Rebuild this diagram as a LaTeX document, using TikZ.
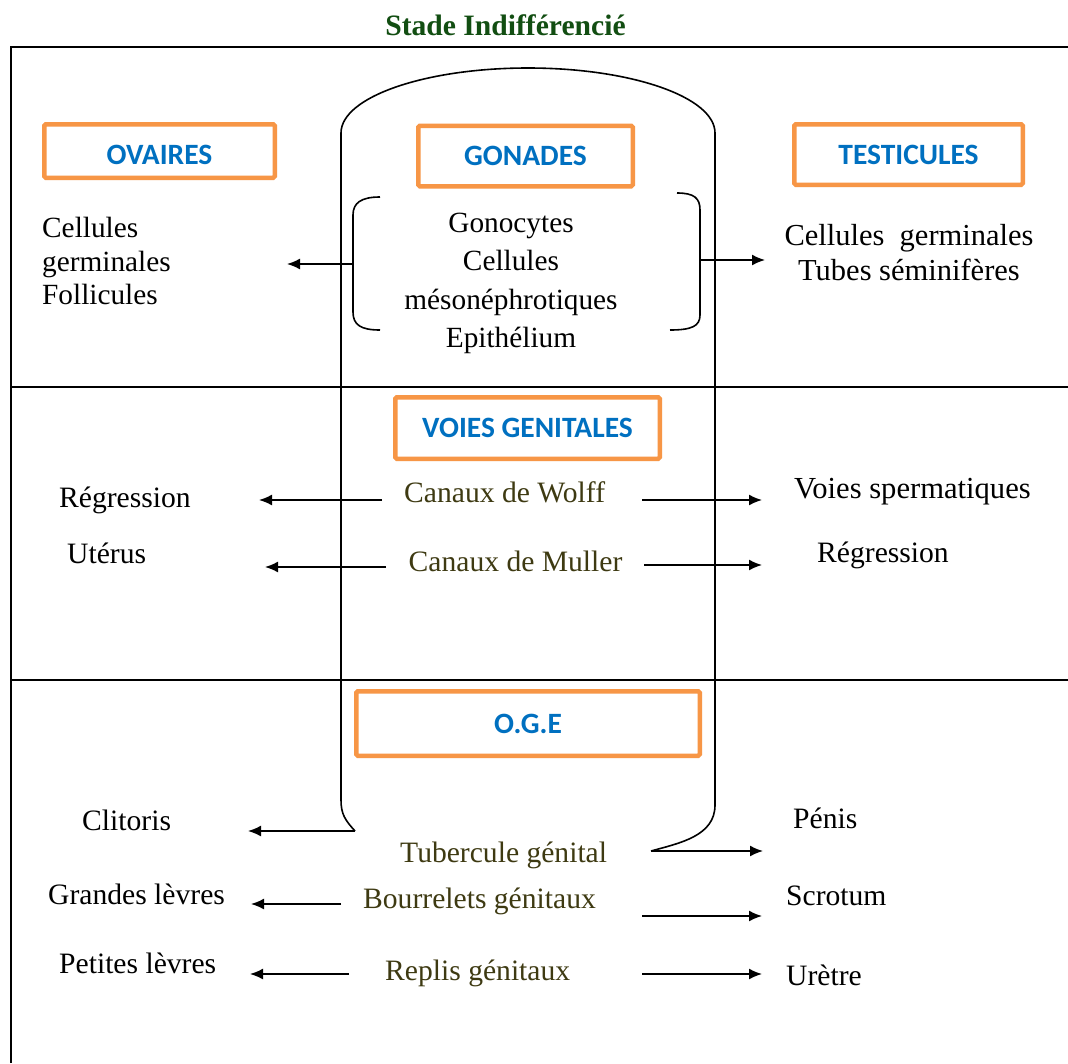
\documentclass[tikz,border=0pt]{standalone}
\usepackage{fontspec}
\setmainfont{Liberation Serif}
\newfontfamily\calibrifont{Carlito}
\usetikzlibrary{arrows.meta}
\definecolor{oboxc}{RGB}{247,150,70}
\definecolor{hblue}{RGB}{0,112,192}
\definecolor{olivetxt}{RGB}{62,58,18}
\definecolor{titlegreen}{RGB}{18,78,18}
\begin{document}
\begin{tikzpicture}[x=1pt,y=-1pt,
  frameline/.style={line width=1.8pt},
  pill/.style={line width=1.6pt},
  arr/.style={line width=1.6pt,-{Latex[length=13pt,width=11pt]}},
  hbox/.style={draw=oboxc,line width=4.5pt,rounded corners=1.5pt,
    font=\calibrifont\bfseries\fontsize{29.5}{34}\selectfont,text=hblue,inner sep=0pt},
  txt/.style={font=\fontsize{29.6}{34}\selectfont,inner sep=0pt},
  otxt/.style={txt,text=olivetxt},
]
\useasboundingbox (0,0) rectangle (1068,1063);
\fill[white] (0,0) rectangle (1068,1063);

% frame
\draw[frameline] (11,1063) -- (11,47) -- (1068,47);
\draw[frameline] (11,387) -- (1068,387);
\draw[frameline] (11,680) -- (1068,680);

% title
\node[inner sep=0pt,anchor=base,text=titlegreen,font=\bfseries\fontsize{29.6}{34}\selectfont] (title) at (505.5,35) {Stade Indifférencié};

% pill shape
\coordinate (pillL) at (355,831);
\coordinate (pillR) at (651,851);
\draw[pill] (pillL) .. controls (345,820) and (341,814) .. (341,800) -- (341,133)
  .. controls (341,97.1) and (424.8,68) .. (528,68)
  .. controls (631.2,68) and (715,97.1) .. (715,133) -- (715,805)
  .. controls (715,836) and (680,843) .. (pillR);

% header boxes
\node[hbox,minimum width=230.5pt,minimum height=53.5pt,text height=27pt,text depth=0pt] (ovaires) at (159.5,151) {OVAIRES};
\node[hbox,minimum width=214.5pt,minimum height=60.5pt] (gonades) at (525.5,156) {GONADES};
\node[hbox,minimum width=228.5pt,minimum height=60.5pt] (testicules) at (908.5,154.5) {TESTICULES};
\node[hbox,minimum width=264.5pt,minimum height=61.5pt] (voies) at (527.5,428) {VOIES GENITALES};
\node[hbox,minimum width=343.5pt,minimum height=64.5pt] (oge) at (528,723.5) {O.G.E};

% gonades section
\node[txt,align=left,anchor=north west,font=\fontsize{29.3}{33.5}\selectfont] (ovtxt) at (42,217) {Cellules\\germinales\\Follicules};
\node[txt,align=center,anchor=north,font=\fontsize{29.3}{38.3}\selectfont] (gontxt) at (511,213) {Gonocytes\\Cellules\\mésonéphrotiques\\Epithélium};
\node[txt,align=center,anchor=north,font=\fontsize{30.5}{35}\selectfont] (testxt) at (909,224) {Cellules\ \ germinales\\Tubes séminifères};

% brackets
\draw[pill] (380,197) .. controls (361,197) and (353,203) .. (353,215) -- (353,312)
  .. controls (353,325) and (361,330) .. (380,330);
\draw[pill] (677,193) .. controls (694,193) and (700,198) .. (700,210) -- (700,315)
  .. controls (700,326) and (692,330) .. (670,330);
\coordinate (brL) at (353,264);
\coordinate (brR) at (700,260);
\coordinate (ovend) at (287,264);
\coordinate (tsend) at (765,260);
\draw[arr] (brL) -- (ovend);
\draw[arr] (brR) -- (tsend);

% voies genitales section
\node[otxt,anchor=base west] (wolff) at (404,502.5) {Canaux de Wolff};
\node[otxt,anchor=base west] (muller) at (408.5,571.5) {Canaux de Muller};
\node[txt,anchor=base west] (regl) at (59,507) {Régression};
\node[txt,anchor=base west] (uterus) at (67,563) {Utérus};
\node[txt,anchor=base west,font=\fontsize{30.6}{34}\selectfont] (voiessp) at (794,498) {Voies spermatiques};
\node[txt,anchor=base west] (regr) at (817,562) {Régression};
\coordinate (wl1) at (382,500); \coordinate (wl2) at (259,500);
\coordinate (wr1) at (642,500); \coordinate (wr2) at (762,500);
\coordinate (ml1) at (386,567); \coordinate (ml2) at (265,567);
\coordinate (mr1) at (644,565); \coordinate (mr2) at (762,565);
\draw[arr] (wl1) -- (wl2);
\draw[arr] (wr1) -- (wr2);
\draw[arr] (ml1) -- (ml2);
\draw[arr] (mr1) -- (mr2);

% OGE section
\node[otxt,anchor=base west] (tuber) at (400,862) {Tubercule génital};
\node[otxt,anchor=base west] (bourr) at (363,908) {Bourrelets génitaux};
\node[otxt,anchor=base west] (replis) at (385,980) {Replis génitaux};
\node[txt,anchor=base west] (clit) at (82,830) {Clitoris};
\node[txt,anchor=base west] (grandes) at (48,904) {Grandes lèvres};
\node[txt,anchor=base west] (petites) at (59,973) {Petites lèvres};
\node[txt,anchor=base west] (penis) at (793,828) {Pénis};
\node[txt,anchor=base west] (scrotum) at (786,905) {Scrotum};
\node[txt,anchor=base west] (uretre) at (786,985) {Urètre};
\coordinate (cl2) at (248,831);
\coordinate (pe2) at (763,851);
\coordinate (bl1) at (341,904); \coordinate (bl2) at (251,904);
\coordinate (br1) at (642,916); \coordinate (br2) at (762,916);
\coordinate (rl1) at (349,974); \coordinate (rl2) at (250,974);
\coordinate (rr1) at (642,974); \coordinate (rr2) at (762,974);
\draw[arr] (pillL) -- (cl2);
\draw[arr] (pillR) -- (pe2);
\draw[arr] (bl1) -- (bl2);
\draw[arr] (br1) -- (br2);
\draw[arr] (rl1) -- (rl2);
\draw[arr] (rr1) -- (rr2);
\end{tikzpicture}
\end{document}
